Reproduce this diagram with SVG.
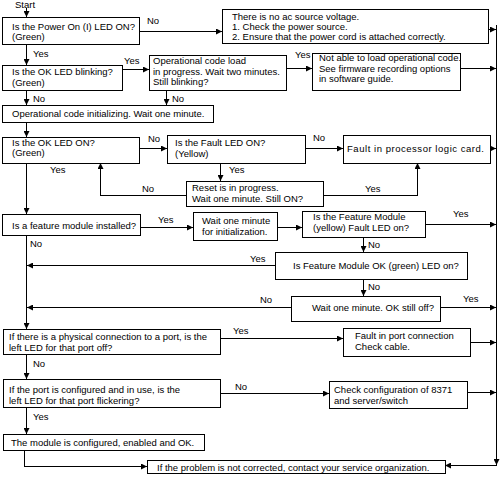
<svg xmlns="http://www.w3.org/2000/svg" width="500" height="477" viewBox="0 0 500 477">
<style>
.bx{fill:#fff;stroke:#000;stroke-width:1;shape-rendering:crispEdges}
.ln{fill:none;stroke:#000;stroke-width:1;shape-rendering:crispEdges}
.ar{marker-end:url(#ah)}
text{font-family:"Liberation Sans",Arial,sans-serif;font-size:9.5px;fill:#000}
</style>
<defs>
<marker id="ah" markerWidth="6" markerHeight="6" refX="6" refY="3" orient="auto" markerUnits="userSpaceOnUse">
<path d="M0,0 L6,3 L0,6 z" fill="#000"/>
</marker>
</defs>
<rect width="500" height="477" fill="#fff"/>
<g id="connectors">
<path class="ln ar" d="M26.5,8 V17"/>
<path class="ln ar" d="M139,31.5 H222"/>
<path class="ln ar" d="M488,29.5 H496"/>
<path class="ln ar" d="M496.5,25 V465"/>
<path class="ln ar" d="M496.5,465.5 H445"/>
<path class="ln ar" d="M26.5,44 V65"/>
<path class="ln ar" d="M122,69.5 H149"/>
<path class="ln ar" d="M286,68.5 H312"/>
<path class="ln ar" d="M461,68.5 H496"/>
<path class="ln ar" d="M26.5,90 V105"/>
<path class="ln ar" d="M166.5,90 V105"/>
<path class="ln ar" d="M26.5,122 V137"/>
<path class="ln ar" d="M139,148.5 H167"/>
<path class="ln ar" d="M305,148.5 H343"/>
<path class="ln ar" d="M490,148.5 H496"/>
<path class="ln ar" d="M220.5,163 V181"/>
<path class="ln ar" d="M186,195.5 H100.5 V163"/>
<path class="ln ar" d="M323,195.5 H417.5 V163"/>
<path class="ln ar" d="M26.5,163 V214"/>
<path class="ln ar" d="M140,227.5 H193"/>
<path class="ln ar" d="M277,227.5 H302"/>
<path class="ln ar" d="M425,224.5 H496"/>
<path class="ln ar" d="M363.5,238 V252"/>
<path class="ln ar" d="M275,265.5 H27"/>
<path class="ln ar" d="M363.5,279 V296"/>
<path class="ln ar" d="M291,307.5 H27"/>
<path class="ln ar" d="M440,307.5 H496"/>
<path class="ln ar" d="M26.5,235 V329"/>
<path class="ln ar" d="M220,338.5 H343"/>
<path class="ln ar" d="M470,342.5 H496"/>
<path class="ln ar" d="M26.5,354 V379"/>
<path class="ln ar" d="M220,393.5 H329"/>
<path class="ln ar" d="M468,392.5 H496"/>
<path class="ln ar" d="M26.5,407 V434"/>
<path class="ln ar" d="M24.5,450 V466.5 H147"/>
</g>
<g id="labels">
<text x="15" y="8">Start</text>
<text x="147" y="23.5">No</text>
<text x="33" y="57">Yes</text>
<text x="124" y="63.5">Yes</text>
<text x="295" y="57.5">Yes</text>
<text x="33" y="101.5">No</text>
<text x="172" y="101.5">No</text>
<text x="148" y="142">No</text>
<text x="313" y="140.5">No</text>
<text x="50" y="173">Yes</text>
<text x="229" y="173">Yes</text>
<text x="142" y="192">No</text>
<text x="365" y="192">Yes</text>
<text x="158" y="223">Yes</text>
<text x="30" y="247">No</text>
<text x="453" y="217">Yes</text>
<text x="368" y="248">No</text>
<text x="250" y="262">Yes</text>
<text x="368" y="290">No</text>
<text x="260" y="303">No</text>
<text x="463" y="302">Yes</text>
<text x="233" y="334">Yes</text>
<text x="33" y="367">No</text>
<text x="235" y="390">No</text>
<text x="33" y="419.5">Yes</text>
</g>
<g id="n1"><rect class="bx" x="2.5" y="17.5" width="137" height="27"/><text x="12" y="30">Is the Power On (I) LED ON?</text><text x="12" y="40">(Green)</text></g>
<g id="n2"><rect class="bx" x="222.5" y="9.5" width="266" height="34"/><text x="232" y="20">There is no ac source voltage.</text><text x="232" y="30">1. Check the power source.</text><text x="232" y="40">2. Ensure that the power cord is attached correctly.</text></g>
<g id="n3"><rect class="bx" x="2.5" y="65.5" width="120" height="25"/><text x="12" y="75">Is the OK LED blinking?</text><text x="12" y="85.5">(Green)</text></g>
<g id="n4"><rect class="bx" x="149.5" y="55.5" width="137" height="35"/><text x="153" y="64">Operational code load</text><text x="153" y="74.5">in progress. Wait two minutes.</text><text x="153" y="85">Still blinking?</text></g>
<g id="n5"><rect class="bx" x="312.5" y="53.5" width="148" height="37"/><text x="319" y="61">Not able to load operational code.</text><text x="319" y="71.5">See firmware recording options</text><text x="319" y="82">in software guide.</text></g>
<g id="n6"><rect class="bx" x="2.5" y="105.5" width="211" height="17"/><text x="12" y="117">Operational code initializing. Wait one minute.</text></g>
<g id="n7"><rect class="bx" x="2.5" y="137.5" width="137" height="26"/><text x="12" y="145.5">Is the OK LED ON?</text><text x="12" y="156">(Green)</text></g>
<g id="n8"><rect class="bx" x="167.5" y="135.5" width="138" height="28"/><text x="175" y="145.5">Is the Fault LED ON?</text><text x="175" y="156.5">(Yellow)</text></g>
<g id="n9"><rect class="bx" x="343.5" y="135.5" width="147" height="28"/><text x="347" y="151.5" textLength="137" lengthAdjust="spacing">Fault in processor logic card.</text></g>
<g id="n10"><rect class="bx" x="186.5" y="181.5" width="137" height="25"/><text x="192" y="190.5">Reset is in progress.</text><text x="192" y="201.5">Wait one minute. Still ON?</text></g>
<g id="n11"><rect class="bx" x="2.5" y="214.5" width="138" height="21"/><text x="12" y="229">Is a feature module installed?</text></g>
<g id="n12"><rect class="bx" x="193.5" y="212.5" width="84" height="28"/><text x="202" y="224">Wait one minute</text><text x="202" y="234.5">for initialization.</text></g>
<g id="n13"><rect class="bx" x="302.5" y="211.5" width="123" height="26"/><text x="313" y="220">Is the Feature Module</text><text x="313" y="231">(yellow) Fault LED on?</text></g>
<g id="n14"><rect class="bx" x="275.5" y="252.5" width="192" height="27"/><text x="293" y="269">Is Feature Module OK (green) LED on?</text></g>
<g id="n15"><rect class="bx" x="291.5" y="296.5" width="149" height="25"/><text x="312" y="311">Wait one minute. OK still off?</text></g>
<g id="n16"><rect class="bx" x="3.5" y="329.5" width="217" height="25"/><text x="9" y="340">If there is a physical connection to a port, is the</text><text x="9" y="350.5">left LED for that port off?</text></g>
<g id="n17"><rect class="bx" x="343.5" y="328.5" width="127" height="28"/><text x="355" y="339">Fault in port connection</text><text x="355" y="349.5">Check cable.</text></g>
<g id="n18"><rect class="bx" x="3.5" y="379.5" width="217" height="28"/><text x="9" y="392.5">If the port is configured and in use, is the</text><text x="9" y="403.5">left LED for that port flickering?</text></g>
<g id="n19"><rect class="bx" x="329.5" y="381.5" width="138" height="27"/><text x="334" y="392.5">Check configuration of 8371</text><text x="334" y="403.5">and server/switch</text></g>
<g id="n20"><rect class="bx" x="3.5" y="434.5" width="201" height="16"/><text x="11" y="446">The module is configured, enabled and OK.</text></g>
<g id="n21"><rect class="bx" x="147.5" y="460.5" width="298" height="13"/><text x="157" y="470.5">If the problem is not corrected, contact your service organization.</text></g>
</svg>
